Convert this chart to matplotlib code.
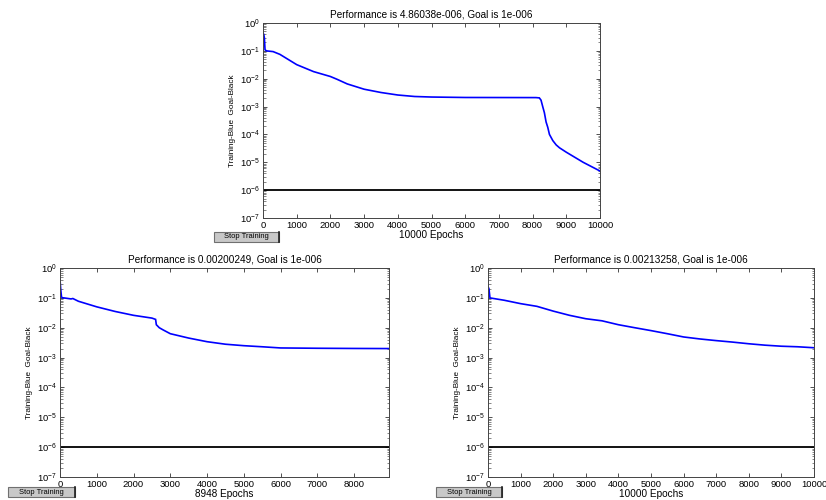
import matplotlib
matplotlib.use("Agg")
import matplotlib.pyplot as plt
from matplotlib.patches import Rectangle
from matplotlib.ticker import LogLocator, NullFormatter, FixedLocator

plt.rcParams['font.family'] = ['Liberation Sans', 'DejaVu Sans']

# ---- data ----
goal = 1e-6

epochs_a = [0, 20, 40, 60, 100, 300, 500, 1000, 1500, 2000, 2200, 2500, 3000, 3500, 4000,
            4500, 5000, 6000, 7000, 8100, 8200, 8250, 8300, 8350, 8400, 8450, 8500,
            8600, 8700, 8800, 9000, 9500, 10000]
perf_a = [0.43, 0.40, 0.30, 0.11, 0.10, 0.094, 0.075, 0.032, 0.018, 0.012, 0.0095, 0.0065,
          0.0042, 0.0032, 0.0026, 0.0023, 0.0022, 0.00212, 0.00211, 0.00210, 0.00205,
          0.0017, 0.00100, 0.00060, 0.00028, 0.00018, 0.00010, 6.0e-5, 4.2e-5, 3.3e-5,
          2.3e-5, 1.0e-5, 4.86038e-6]

epochs_b = [0, 20, 40, 60, 100, 300, 350, 500, 1000, 1500, 2000, 2500, 2600, 2620, 2700,
            2800, 3000, 3500, 4000, 4500, 5000, 5500, 6000, 7000, 8000, 8948]
perf_b = [0.40, 0.19, 0.11, 0.10, 0.10, 0.092, 0.095, 0.077, 0.050, 0.035, 0.026, 0.021,
          0.019, 0.0126, 0.0100, 0.0085, 0.0063, 0.0045, 0.0034, 0.0028, 0.0025, 0.0023,
          0.0021, 0.00205, 0.00202, 0.00200249]

epochs_c = [0, 30, 60, 100, 500, 1000, 1500, 2000, 2500, 3000, 3500, 4000, 4500, 5000,
            5500, 6000, 6500, 7000, 7500, 8000, 8500, 9000, 9500, 10000]
perf_c = [0.24, 0.20, 0.10, 0.098, 0.083, 0.064, 0.052, 0.036, 0.026, 0.020, 0.017,
          0.0126, 0.010, 0.0080, 0.0063, 0.0049, 0.0042, 0.0037, 0.0033, 0.0029, 0.0026,
          0.0024, 0.0023, 0.00213258]

titles = ["Performance is 4.86038e-006, Goal is 1e-006",
          "Performance is 0.00200249, Goal is 1e-006",
          "Performance is 0.00213258, Goal is 1e-006"]
xlabels = ["10000 Epochs", "8948 Epochs", "10000 Epochs"]
xmaxes = [10000, 8948, 10000]
ylabel = "Training-Blue  Goal-Black"
button_text = "Stop Training"

fig = plt.figure(figsize=(8.26, 5.0), dpi=100)
fig.patch.set_facecolor('white')

rects = [
    [263/826, 1-218/500, (600-263)/826, (218-23)/500],
    [60/826, 1-477/500, (389-60)/826, (477-268)/500],
    [488/826, 1-477/500, (814-488)/826, (477-268)/500],
]
datasets = [(epochs_a, perf_a), (epochs_b, perf_b), (epochs_c, perf_c)]

fs = 6.8
for rect, (ep, pf), title, xl, xm in zip(rects, datasets, titles, xlabels, xmaxes):
    ax = fig.add_axes(rect)
    ax.set_yscale('log')
    ax.plot(ep, pf, color='#0000ff', lw=1.2, solid_joinstyle='miter')
    ax.plot([0, xm], [goal, goal], color='black', lw=1.3)
    ax.set_xlim(0, xm)
    ax.set_ylim(1e-7, 1)
    ax.xaxis.set_major_locator(FixedLocator(list(range(0, xm + 1, 1000))))
    ax.yaxis.set_major_locator(LogLocator(base=10, numticks=20))
    ax.yaxis.set_minor_locator(LogLocator(base=10, subs=range(2, 10), numticks=20))
    ax.yaxis.set_minor_formatter(NullFormatter())
    ax.tick_params(axis='both', which='major', direction='in', length=3, width=0.6,
                   labelsize=fs, top=True, right=True, pad=2, colors='#333333',
                   labelcolor='black')
    ax.tick_params(axis='y', which='minor', direction='in', length=1.8, width=0.5,
                   left=True, right=True, colors='#555555')
    for s in ax.spines.values():
        s.set_linewidth(0.7)
        s.set_color('#444444')
    ax.set_title(title, fontsize=7.2, pad=4)
    ax.set_xlabel(xl, fontsize=fs + 0.4, labelpad=0)
    ax.set_ylabel(ylabel, fontsize=5.9, labelpad=3)

# Stop Training buttons
buttons = [(214, 232, 65, 10), (8, 487, 67, 10), (436, 487, 66, 10)]
for (bx, by, bw, bh) in buttons:
    r = Rectangle((bx/826, 1-(by+bh)/500), bw/826, bh/500, transform=fig.transFigure,
                  facecolor='#c8c8c8', edgecolor='#707070', lw=0.8)
    fig.add_artist(r)
    fig.add_artist(plt.Line2D([(bx+bw)/826, (bx+bw)/826], [1-(by+bh)/500, 1-by/500],
                              transform=fig.transFigure, color='#202020', lw=1.2))
    fig.text((bx + bw/2)/826, 1-(by + bh/2)/500, button_text, fontsize=5.4,
             ha='center', va='center')

fig.savefig("out.png", dpi=100)
